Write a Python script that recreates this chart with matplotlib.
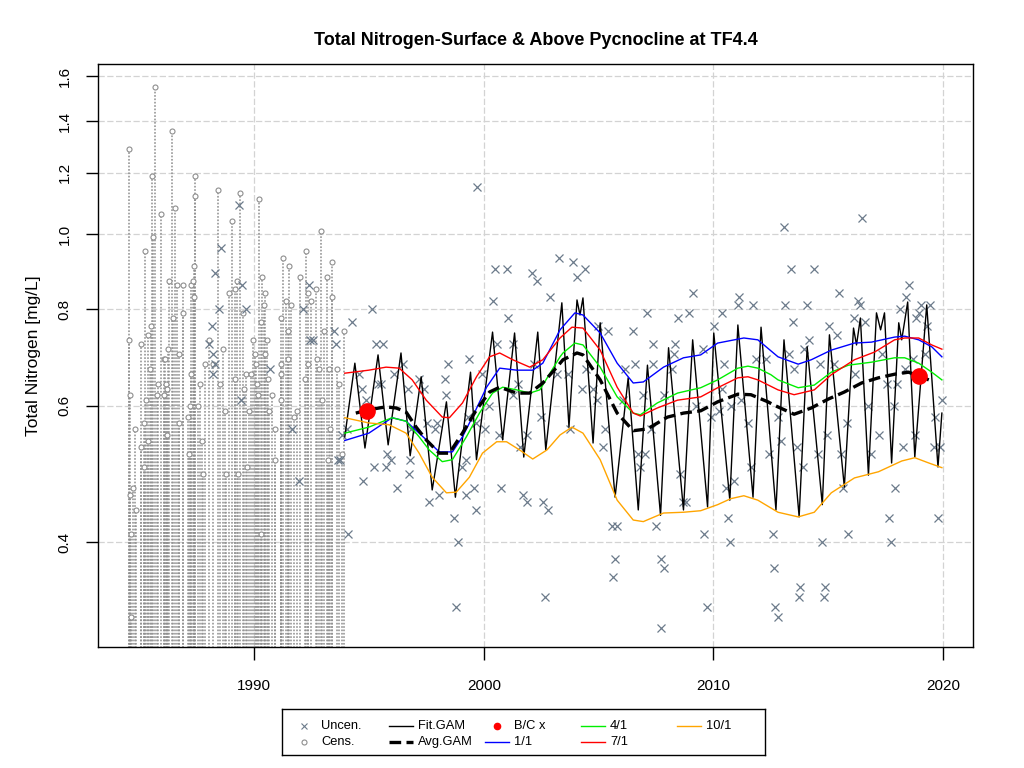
import matplotlib
matplotlib.use("Agg")
import matplotlib.pyplot as plt
from matplotlib.lines import Line2D
from matplotlib.ticker import NullLocator

plt.rcParams['font.family'] = ['Liberation Sans', 'DejaVu Sans']

# ---- data ----
# censored observations (upper bound of interval)
cens_year = [1984.53, 1984.53, 1985.05, 1985.23, 1985.36, 1985.49, 1985.53, 1985.66, 1985.58, 1985.93,
             1986.06, 1986.28, 1986.41, 1986.54, 1986.45, 1986.23, 1986.63, 1986.71, 1986.89, 1986.89,
             1987.24, 1987.33, 1987.37, 1987.37, 1987.42, 1987.42, 1988.03, 1988.42, 1988.64, 1988.90,
             1989.04, 1989.17, 1989.26, 1989.39, 1989.52, 1989.96, 1990.22, 1990.35, 1990.48, 1990.44,
             1990.31, 1990.53, 1991.14, 1991.23, 1991.40, 1991.53, 1991.58, 1991.45, 1992.01, 1992.23,
             1992.32, 1992.45, 1992.67, 1992.89, 1993.15, 1993.37, 1993.37, 1993.02, 1993.90,
             1984.57, 1984.79, 1985.05, 1985.18, 1985.18, 1985.27, 1985.36, 1985.44, 1984.70, 1984.57,
             1984.83, 1984.61, 1984.61, 1985.80, 1985.75, 1986.06, 1986.10, 1986.15, 1986.19, 1986.19,
             1986.71, 1987.11, 1987.15, 1987.20, 1987.24, 1987.55, 1987.63, 1987.72, 1987.77, 1987.85,
             1988.20, 1988.51, 1988.73, 1988.77, 1989.17, 1989.30, 1989.56, 1989.65, 1989.69, 1989.78,
             1989.87, 1990.04, 1990.09, 1990.13, 1990.18, 1990.31, 1990.48, 1990.61, 1990.66, 1990.79,
             1990.88, 1990.92, 1991.14, 1991.18, 1991.18, 1991.45, 1991.71, 1991.84, 1992.19, 1992.32,
             1992.72, 1992.80, 1992.93, 1993.24, 1993.29, 1993.20, 1993.59, 1993.68, 1993.81]
cens_val = [1.29, 0.73, 0.72, 0.95, 0.74, 0.76, 1.19, 1.55, 0.99, 1.06,
            0.69, 0.87, 1.36, 1.08, 0.78, 0.71, 0.86, 0.70, 0.79, 0.86,
            0.86, 0.87, 0.91, 0.83, 1.19, 1.12, 0.73, 1.14, 0.71, 0.84,
            1.04, 0.85, 0.87, 1.13, 0.79, 0.73, 1.11, 0.88, 0.84, 0.81,
            0.77, 0.73, 0.78, 0.93, 0.82, 0.91, 0.81, 0.75, 0.88, 0.95,
            0.84, 0.82, 0.85, 1.01, 0.88, 0.92, 0.83, 0.75, 0.75,
            0.62, 0.56, 0.53, 0.50, 0.57, 0.61, 0.54, 0.67, 0.47, 0.46,
            0.44, 0.41, 0.32, 0.64, 0.62, 0.62, 0.69, 0.64, 0.63, 0.55,
            0.57, 0.58, 0.52, 0.60, 0.66, 0.60, 0.64, 0.54, 0.49, 0.68,
            0.68, 0.64, 0.59, 0.49, 0.65, 0.49, 0.63, 0.66, 0.50, 0.59,
            0.66, 0.70, 0.68, 0.64, 0.62, 0.41, 0.70, 0.65, 0.59, 0.62,
            0.51, 0.56, 0.61, 0.68, 0.66, 0.69, 0.58, 0.59, 0.65, 0.68,
            0.69, 0.67, 0.61, 0.67, 0.56, 0.51, 0.67, 0.64, 0.52]

# uncensored observations
unc_year = [1989.34, 1988.55, 1988.29, 1988.47, 1988.16, 1989.47, 1989.65, 1992.37, 1992.10, 1992.41,
            1992.54, 1993.55, 1993.46, 1988.03, 1988.20, 1988.29, 1988.20, 1989.43, 1990.70, 1991.62,
            1991.93, 1993.64, 1994.07,
            1999.72, 1995.12, 1994.25, 1995.30, 1995.61, 1994.56, 1994.69, 1994.86, 1995.52, 1996.09,
            1996.48, 1997.18, 1997.40, 1998.45, 1998.32, 1998.37, 1999.37, 1999.90, 2000.47, 2000.99,
            2000.38, 2001.04, 2002.09, 2002.31, 2002.88, 2003.27, 2000.56, 2001.26, 2002.18, 2001.48,
            2001.26, 2000.21, 2002.48, 2000.07, 1999.68, 1999.24, 1999.07, 2001.87, 2001.56, 2000.64,
            2000.73, 2001.70, 2001.87, 2002.57, 2002.79, 1999.64, 1999.24, 1999.55, 1998.72, 1998.89,
            1998.80, 2002.66, 1997.62, 1998.06, 1996.22, 1994.73, 1995.21, 1995.74, 1995.78, 1995.96,
            1996.79, 1996.75, 1996.83, 1997.88, 1997.97, 1997.53, 1994.03, 1993.81, 1993.72, 1995.39,
            1996.70, 1999.29,
            2003.89, 2004.41, 2004.06, 2009.10, 2011.11, 2011.07, 2011.73, 2007.13, 2008.48, 2008.92,
            2010.37, 2010.02, 2006.51, 2005.42, 2004.98, 2007.39, 2008.35, 2009.54, 2008.27, 2003.18,
            2003.67, 2004.45, 2006.60, 2007.39, 2006.16, 2008.22, 2010.46, 2011.86, 2004.28, 2004.76,
            2007.87, 2010.37, 2004.94, 2006.08, 2006.95, 2009.23, 2010.24, 2010.76, 2011.20, 2009.89,
            2003.75, 2005.29, 2007.30, 2011.51, 2005.20, 2006.73, 2007.04, 2006.82, 2011.64, 2008.53,
            2010.54, 2010.89, 2008.79, 2008.66, 2010.63, 2007.52, 2005.81, 2005.59, 2009.58, 2010.72,
            2012.43, 2005.72, 2007.70, 2007.83, 2005.64, 2009.71, 2007.74,
            2013.08, 2016.50, 2013.39, 2014.40, 2013.13, 2014.09, 2015.49, 2016.32, 2016.41, 2016.15,
            2016.59, 2018.51, 2018.38, 2019.04, 2019.43, 2018.12, 2018.95, 2018.82, 2019.30, 2013.48,
            2015.05, 2015.41, 2014.18, 2013.96, 2013.30, 2012.30, 2014.66, 2015.27, 2016.19, 2013.52,
            2017.33, 2017.59, 2017.99, 2018.34, 2018.69, 2019.22, 2019.96, 2016.72, 2017.86, 2019.65,
            2012.82, 2015.84, 2014.97, 2017.20, 2012.95, 2013.65, 2018.78, 2019.61, 2019.87, 2018.25,
            2015.58, 2014.57, 2013.92, 2016.85, 2015.67, 2017.90, 2017.64, 2019.79, 2015.89, 2012.60,
            2014.75, 2017.73, 2012.65, 2013.78, 2013.74, 2014.88, 2014.84, 2012.69, 2012.82]
unc_val = [1.09, 0.96, 0.89, 0.80, 0.76, 0.86, 0.80, 0.86, 0.80, 0.73,
           0.73, 0.72, 0.75, 0.72, 0.70, 0.68, 0.66, 0.61, 0.67, 0.56,
           0.48, 0.51, 0.41,
           1.15, 0.80, 0.77, 0.72, 0.72, 0.66, 0.63, 0.61, 0.64, 0.66,
           0.68, 0.65, 0.63, 0.68, 0.65, 0.62, 0.69, 0.66, 0.90, 0.90,
           0.82, 0.78, 0.89, 0.87, 0.83, 0.93, 0.72, 0.72, 0.68, 0.64,
           0.62, 0.60, 0.58, 0.56, 0.57, 0.51, 0.50, 0.55, 0.53, 0.55,
           0.47, 0.46, 0.45, 0.45, 0.44, 0.44, 0.46, 0.47, 0.43, 0.40,
           0.33, 0.34, 0.45, 0.46, 0.47, 0.48, 0.50, 0.50, 0.52, 0.51,
           0.51, 0.49, 0.56, 0.56, 0.57, 0.57, 0.56, 0.55, 0.51, 0.64,
           0.63, 0.58,
           0.92, 0.90, 0.88, 0.84, 0.83, 0.81, 0.81, 0.79, 0.78, 0.79,
           0.79, 0.76, 0.75, 0.75, 0.76, 0.72, 0.72, 0.71, 0.70, 0.66,
           0.66, 0.67, 0.68, 0.68, 0.67, 0.67, 0.68, 0.69, 0.63, 0.63,
           0.62, 0.63, 0.61, 0.61, 0.62, 0.60, 0.59, 0.60, 0.61, 0.58,
           0.56, 0.56, 0.56, 0.57, 0.53, 0.52, 0.52, 0.50, 0.50, 0.49,
           0.47, 0.48, 0.45, 0.45, 0.43, 0.42, 0.42, 0.42, 0.41, 0.40,
           0.52, 0.38, 0.38, 0.37, 0.36, 0.33, 0.31,
           1.02, 1.05, 0.90, 0.90, 0.81, 0.81, 0.84, 0.82, 0.81, 0.78,
           0.77, 0.86, 0.83, 0.81, 0.81, 0.80, 0.79, 0.78, 0.76, 0.77,
           0.76, 0.74, 0.73, 0.71, 0.70, 0.69, 0.68, 0.68, 0.66, 0.67,
           0.70, 0.64, 0.64, 0.67, 0.69, 0.70, 0.61, 0.60, 0.60, 0.58,
           0.58, 0.57, 0.55, 0.55, 0.54, 0.53, 0.55, 0.53, 0.53, 0.53,
           0.52, 0.52, 0.50, 0.52, 0.47, 0.47, 0.43, 0.43, 0.41, 0.41,
           0.40, 0.40, 0.37, 0.35, 0.34, 0.35, 0.34, 0.33, 0.32]

# full GAM fit (seasonal peaks and troughs)
fit_year = [1993.94, 1994.38, 1994.82, 1995.39, 1995.83, 1996.39, 1996.79, 1997.27, 1997.75, 1998.37,
            1998.76, 1999.42, 1999.68, 2000.38, 2000.82, 2001.34, 2001.74, 2002.35, 2002.70, 2003.40,
            2003.71, 2004.06, 2004.19, 2004.32, 2004.76, 2005.07, 2005.72, 2006.29, 2006.73, 2007.13,
            2007.70, 2008.05, 2008.70, 2009.10, 2009.75, 2010.02, 2010.72, 2011.07, 2011.73, 2012.08,
            2012.73, 2013.08, 2013.74, 2014.09, 2014.75, 2015.06, 2015.71, 2016.11, 2016.24, 2016.41,
            2016.76, 2017.11, 2017.29, 2017.46, 2017.77, 2018.08, 2018.21, 2018.47, 2018.78, 2019.30,
            2019.79, 2019.96]
fit_val = [0.547, 0.681, 0.529, 0.698, 0.534, 0.702, 0.517, 0.654, 0.467, 0.607,
           0.457, 0.663, 0.511, 0.747, 0.542, 0.745, 0.515, 0.747, 0.526, 0.815,
           0.563, 0.822, 0.786, 0.827, 0.537, 0.768, 0.457, 0.652, 0.440, 0.677,
           0.433, 0.713, 0.440, 0.730, 0.444, 0.745, 0.453, 0.763, 0.457, 0.758,
           0.440, 0.730, 0.431, 0.715, 0.447, 0.741, 0.471, 0.756, 0.719, 0.779,
           0.488, 0.791, 0.752, 0.791, 0.506, 0.768, 0.730, 0.817, 0.515, 0.810,
           0.500, 0.587]

# averaged (non-seasonal) GAM
avg_year = [1994.42, 1994.99, 1995.74, 1996.18, 1996.61, 1997.05, 1997.49, 1998.06, 1998.50, 1999.07,
            1999.68, 2000.25, 2000.69, 2001.43, 2002.00, 2002.57, 2003.18, 2003.45, 2004.06, 2004.32,
            2005.07, 2005.81, 2006.51, 2007.13, 2008.00, 2008.70, 2009.45, 2010.19, 2011.07, 2011.64,
            2012.38, 2012.65, 2013.52, 2014.27, 2015.01, 2015.71, 2016.46, 2017.20, 2017.90, 2018.51,
            2019.39]
avg_val = [0.587, 0.593, 0.598, 0.596, 0.589, 0.563, 0.542, 0.521, 0.521, 0.553,
           0.593, 0.625, 0.634, 0.623, 0.623, 0.642, 0.673, 0.688, 0.702, 0.698,
           0.648, 0.587, 0.557, 0.560, 0.580, 0.587, 0.591, 0.607, 0.621, 0.620,
           0.607, 0.601, 0.585, 0.596, 0.612, 0.625, 0.642, 0.652, 0.659, 0.663,
           0.648]

# fitted values on fixed days of year
jan_year = [1993.94, 1994.99, 1996.00, 1996.61, 1997.18, 1998.06, 1998.63, 1999.07, 1999.50, 2000.12,
            2000.69, 2001.43, 2002.13, 2002.57, 2003.32, 2003.97, 2004.32, 2005.07, 2005.81, 2006.51,
            2006.95, 2007.83, 2008.70, 2009.45, 2010.19, 2011.33, 2011.94, 2012.82, 2013.70, 2014.27,
            2015.14, 2016.15, 2016.89, 2017.90, 2018.34, 2018.95, 2019.52, 2019.96]
jan_val = [0.541, 0.553, 0.579, 0.573, 0.553, 0.523, 0.523, 0.547, 0.580, 0.634,
           0.671, 0.667, 0.667, 0.681, 0.752, 0.791, 0.786, 0.745, 0.681, 0.642,
           0.644, 0.673, 0.692, 0.698, 0.723, 0.734, 0.730, 0.694, 0.679, 0.688,
           0.708, 0.723, 0.725, 0.736, 0.738, 0.730, 0.715, 0.694]

apr_year = [1993.94, 1994.99, 1996.00, 1996.61, 1997.18, 1997.62, 1998.19, 1998.63, 1999.24, 1999.81,
            2000.38, 2000.82, 2001.43, 2002.00, 2002.44, 2003.32, 2003.45, 2003.97, 2004.32, 2005.07,
            2005.81, 2006.51, 2006.82, 2007.56, 2008.44, 2009.45, 2010.19, 2011.07, 2011.51, 2011.94,
            2012.51, 2012.82, 2013.70, 2014.40, 2015.14, 2015.89, 2016.89, 2017.90, 2018.34, 2018.95,
            2019.52, 2019.96]
apr_val = [0.553, 0.563, 0.579, 0.573, 0.547, 0.526, 0.508, 0.511, 0.547, 0.587,
           0.623, 0.634, 0.629, 0.623, 0.629, 0.694, 0.702, 0.723, 0.719, 0.673,
           0.616, 0.587, 0.584, 0.605, 0.623, 0.633, 0.648, 0.671, 0.675, 0.671,
           0.658, 0.648, 0.633, 0.638, 0.663, 0.677, 0.683, 0.692, 0.692, 0.681,
           0.663, 0.648]

jul_year = [1993.94, 1994.99, 1995.74, 1996.31, 1996.88, 1997.49, 1998.19, 1998.50, 1999.07, 1999.68,
            2000.25, 2000.69, 2001.26, 2002.00, 2002.57, 2003.32, 2003.84, 2004.32, 2005.07, 2005.81,
            2006.51, 2006.82, 2007.56, 2008.44, 2009.45, 2010.19, 2011.07, 2011.51, 2011.94, 2012.82,
            2013.52, 2014.40, 2015.14, 2016.15, 2017.03, 2017.90, 2018.34, 2018.95, 2019.52, 2019.96]
jul_val = [0.661, 0.667, 0.673, 0.671, 0.648, 0.610, 0.580, 0.579, 0.605, 0.654,
           0.694, 0.702, 0.688, 0.673, 0.688, 0.734, 0.758, 0.756, 0.708, 0.634,
           0.587, 0.582, 0.596, 0.610, 0.616, 0.633, 0.652, 0.654, 0.648, 0.629,
           0.620, 0.629, 0.658, 0.688, 0.704, 0.730, 0.734, 0.734, 0.719, 0.710]

oct_year = [1993.94, 1994.99, 1995.87, 1996.61, 1997.18, 1997.75, 1998.37, 1998.80, 1999.37, 1999.94,
            2000.56, 2000.99, 2001.56, 2002.13, 2002.75, 2003.32, 2003.84, 2004.32, 2005.07, 2005.81,
            2006.51, 2006.95, 2007.83, 2008.70, 2009.45, 2010.19, 2010.76, 2011.33, 2011.94, 2012.82,
            2013.70, 2014.40, 2015.14, 2016.15, 2017.20, 2018.21, 2018.78, 2019.39, 2019.96]
oct_val = [0.579, 0.570, 0.567, 0.553, 0.521, 0.485, 0.463, 0.464, 0.485, 0.521,
           0.539, 0.539, 0.526, 0.512, 0.526, 0.550, 0.563, 0.553, 0.511, 0.453,
           0.427, 0.425, 0.436, 0.437, 0.439, 0.447, 0.455, 0.459, 0.453, 0.437,
           0.431, 0.437, 0.463, 0.484, 0.493, 0.509, 0.514, 0.506, 0.499]

# baseline / current points
bc_year = [1994.91, 2018.95]
bc_val = [0.591, 0.656]

yticks = [0.4, 0.6, 0.8, 1.0, 1.2, 1.4, 1.6]
xticks = [1990, 2000, 2010, 2020]

unc_color = '#6C7B8B'
cens_color = '#8E8E8E'

# ---- figure ----
fig = plt.figure(figsize=(10.24, 7.68), dpi=100)
ax = fig.add_axes([0.0960, 0.1572, 0.8545, 0.7595])
ax.set_yscale('log')
ax.set_xlim(1983.20, 2021.33)
ax.set_ylim(0.2924, 1.659)
ax.set_axisbelow(True)
ax.grid(True, color='#D3D3D3', linestyle=(0, (5, 2)), linewidth=0.9)

# censored: dotted line from below the axis to the upper bound
ax.vlines(cens_year, 0.2, cens_val, colors=cens_color, linestyles=(0, (1.1, 1.1)), linewidth=1.1)
ax.plot(cens_year, cens_val, 'o', mfc='white', mec=cens_color, ms=3.6, mew=0.8, ls='none')

ax.plot(unc_year, unc_val, 'x', color=unc_color, ms=5.5, mew=0.9, ls='none')

ax.plot(fit_year, fit_val, color='black', lw=1.0)
ax.plot(jan_year, jan_val, color='blue', lw=1.0)
ax.plot(apr_year, apr_val, color='#00EE00', lw=1.0)
ax.plot(jul_year, jul_val, color='red', lw=1.0)
ax.plot(oct_year, oct_val, color='orange', lw=1.0)
ax.plot(avg_year, avg_val, color='black', lw=2.4, linestyle=(0, (3.5, 1.6)))
ax.plot(bc_year, bc_val, 'o', color='red', ms=11, ls='none')

ax.yaxis.set_minor_locator(NullLocator())
ax.set_yticks(yticks)
ax.set_yticklabels([f'{v:.1f}' for v in yticks], rotation=90, va='center')
ax.set_xticks(xticks)
ax.set_xticklabels([str(v) for v in xticks])
ax.tick_params(axis='x', length=9, width=1, pad=13.5, labelsize=11)
ax.tick_params(axis='y', length=8.6, width=1, pad=10.5, labelsize=11)
for s in ax.spines.values():
    s.set_linewidth(1.0)
    s.set_color('black')

ax.set_ylabel('Total Nitrogen [mg/L]', fontsize=12.5, va='center')
ax.yaxis.set_label_coords(-0.0735, 0.5)

fig.text(535.8 / 1024, 1 - 44.7 / 768, 'Total Nitrogen-Surface & Above Pycnocline at TF4.4',
         ha='center', va='baseline', fontsize=13, fontweight='bold')

# ---- legend, laid out with equal column widths ----
lg = fig.add_axes([281.7 / 1024, 1 - 755 / 768, 483.6 / 1024, 45.7 / 768])
lg.set_xlim(0, 483.6)
lg.set_ylim(45.7, 0)
lg.set_xticks([])
lg.set_yticks([])
for s in lg.spines.values():
    s.set_linewidth(1.0)
    s.set_color('black')

col_x = [10.6, 107.0, 203.3, 299.3, 395.3]
row_y = [16.7, 32.4]
hl = 24
items = [
    ('Uncen.', dict(marker='x', color=unc_color, ms=5, mew=0.8, ls='none'), 'marker'),
    ('Cens.', dict(marker='o', mfc='white', mec=cens_color, ms=3.6, mew=0.8, ls='none'), 'marker'),
    ('Fit.GAM', dict(color='black', lw=1.0), 'line'),
    ('Avg.GAM', dict(color='black', lw=2.4, ls=(0, (3.5, 1.6))), 'line'),
    ('B/C x', dict(marker='o', color='red', ms=4.5, ls='none'), 'marker'),
    ('1/1', dict(color='blue', lw=1.0), 'line'),
    ('4/1', dict(color='#00EE00', lw=1.0), 'line'),
    ('7/1', dict(color='red', lw=1.0), 'line'),
    ('10/1', dict(color='orange', lw=1.0), 'line'),
]
for i, (label, style, kind) in enumerate(items):
    cx = col_x[i // 2]
    cy = row_y[i % 2]
    if kind == 'marker':
        lg.add_line(Line2D([cx + hl / 2], [cy], **style))
    else:
        lg.add_line(Line2D([cx, cx + hl], [cy, cy], **style))
    lg.text(cx + 29, cy, label, fontsize=9.3, va='center', ha='left')

fig.savefig('out.png', dpi=100)
